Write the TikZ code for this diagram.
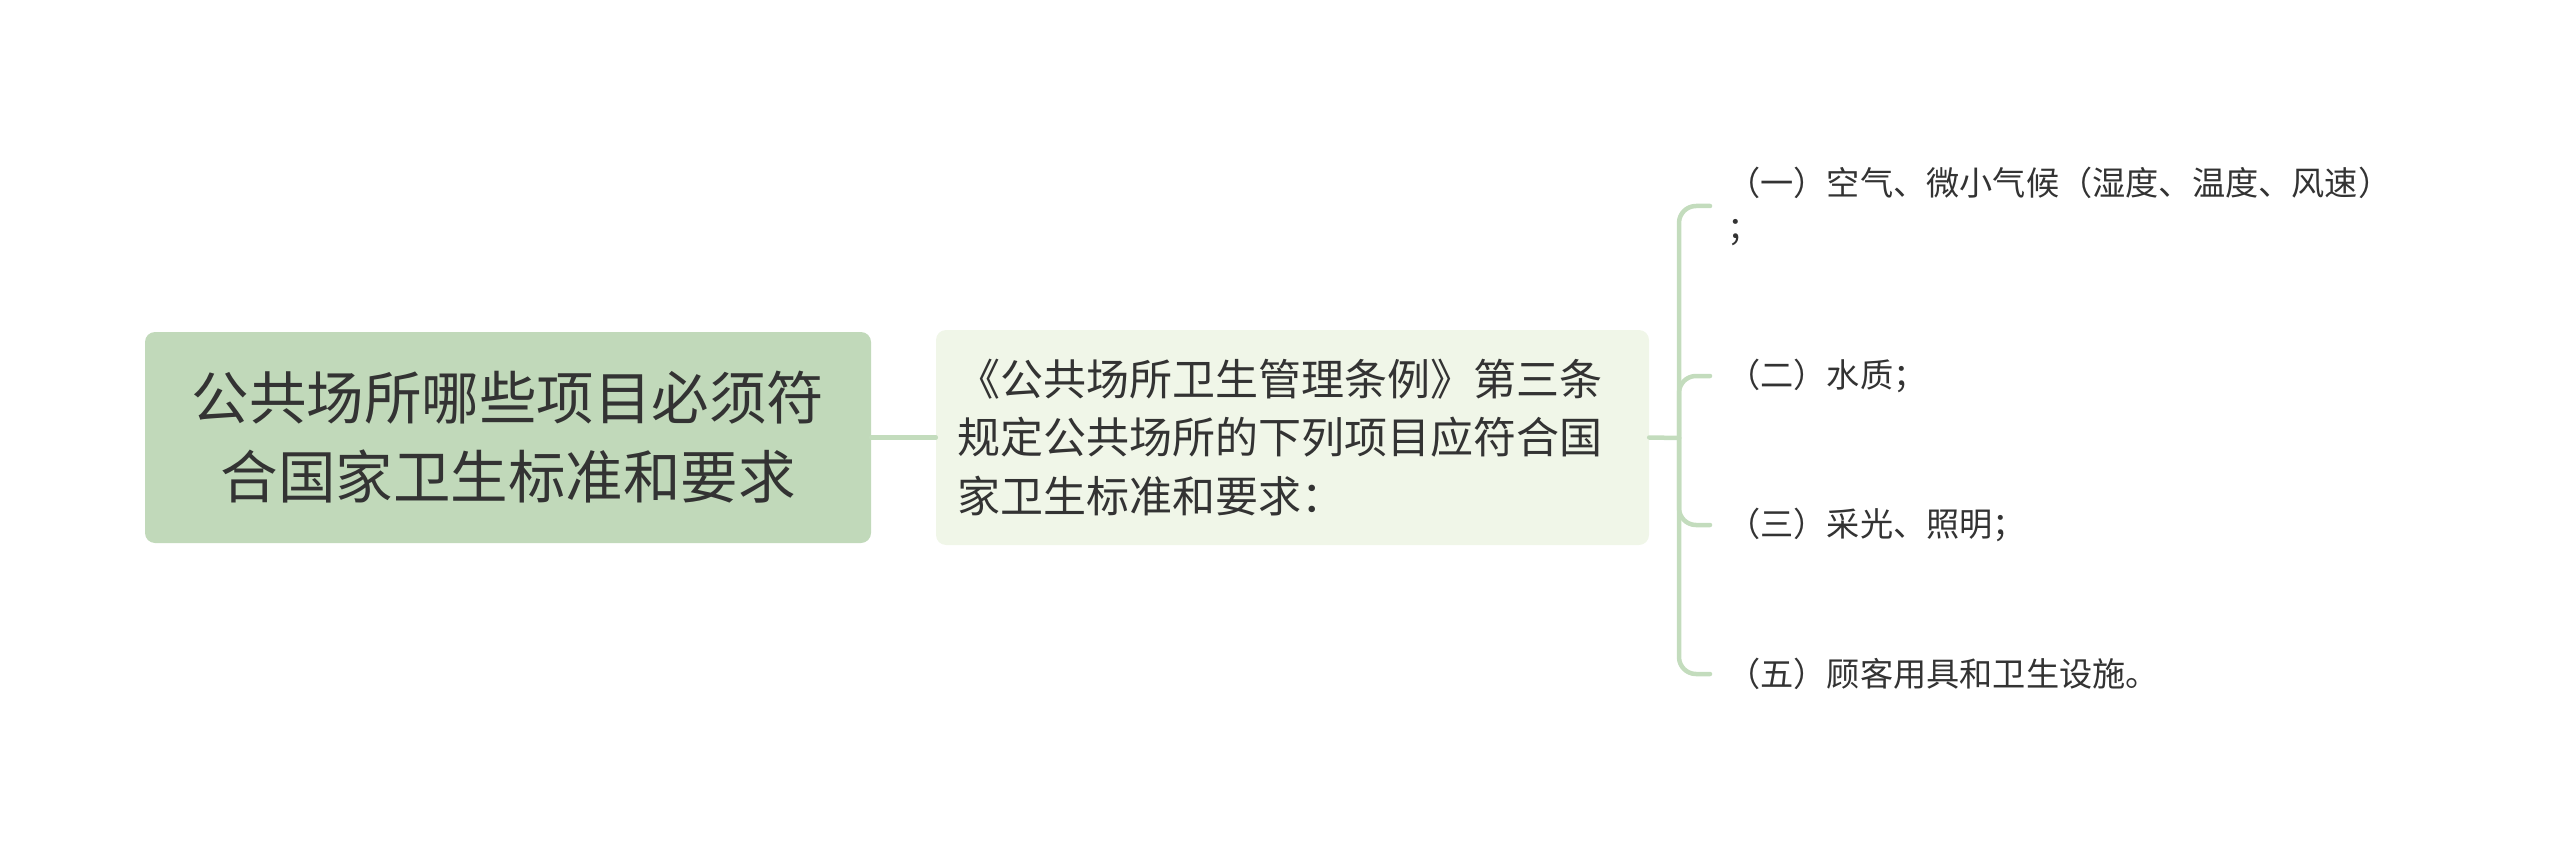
\documentclass[tikz,border=0pt]{standalone}
\usepackage{fontspec}
\newfontfamily\cjk{Noto Sans CJK SC}
\definecolor{rootfill}{HTML}{C1D9BA}
\definecolor{midfill}{HTML}{F0F6E8}
\definecolor{linkcol}{HTML}{C3DCBD}
\definecolor{txtcol}{HTML}{333333}
\begin{document}
\begin{tikzpicture}[x=1pt,y=-1pt, line join=round, line cap=round,
	rootbox/.style={fill=rootfill,rounded corners=10pt,minimum width=726pt,minimum height=211pt,
		align=center,text=txtcol,font=\cjk\fontsize{57.5}{79}\selectfont,inner sep=0pt},
	midbox/.style={fill=midfill,rounded corners=10pt,text width=671pt,minimum height=215pt,
		inner xsep=21pt,inner ysep=0pt,align=left,text=txtcol,font=\cjk\fontsize{43}{58.5}\selectfont},
	leaf/.style={anchor=west,inner sep=0pt,align=left,text=txtcol,font=\cjk\fontsize{33.2}{45}\selectfont},
	link/.style={draw=linkcol,line width=4.5pt}]
	\useasboundingbox (0,0) rectangle (2560,853);
	\node[rootbox] (root) at (508,437.5) {公共场所哪些项目必须符\\合国家卫生标准和要求};
	\node[midbox] (mid) at (1292.5,437.5) {《公共场所卫生管理条例》第三条\\规定公共场所的下列项目应符合国\\家卫生标准和要求：};
	\coordinate (jn) at (1679,438);
	\node[leaf] (leaf1) at (1727,206) {（一）空气、微小气候（湿度、温度、风速）\\；};
	\node[leaf] (leaf2) at (1727,376) {（二）水质；};
	\node[leaf] (leaf3) at (1727,525) {（三）采光、照明；};
	\node[leaf] (leaf4) at (1727,674) {（五）顾客用具和卫生设施。};
	\draw[link] (root.east) -- (mid.west);
	\draw[link] (mid.east) -- (jn);
	\foreach \i in {1,...,4}
		\draw[link,rounded corners=17pt] (jn) |- ([xshift=-17pt]leaf\i.west);
\end{tikzpicture}
\end{document}
